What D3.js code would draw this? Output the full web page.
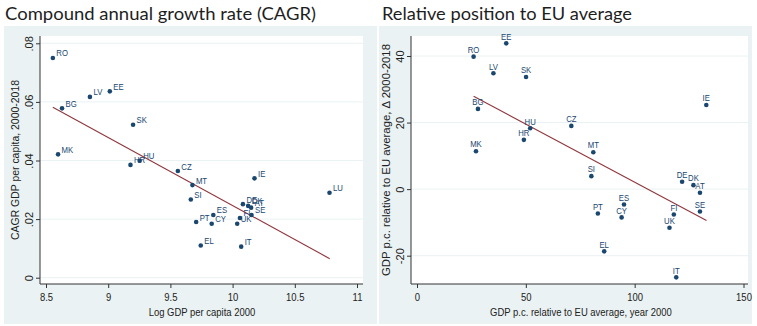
<!DOCTYPE html>
<html>
<head>
<meta charset="utf-8">
<script src="https://cdn.jsdelivr.net/npm/d3@7"></script>
<style>
  html, body { margin: 0; padding: 0; background: #fff; }
  svg { display: block; }
  .tick text, .axis-title, .mlabel { font-family: "Liberation Sans", Arial, sans-serif; }
</style>
</head>
<body>
<div id="chart"></div>
<script>
// Données
const countries = ["RO", "BG", "LV", "EE", "SK", "MK", "HR", "HU", "CZ", "MT", "SI", "ES", "PT", "CY", "EL",
                   "IE", "LU", "DE", "DK", "AT", "SE", "FI", "UK", "IT"];
const logGdp2000 = [8.555, 8.629, 8.853, 9.013, 9.200, 8.597, 9.179, 9.253, 9.560, 9.677, 9.664, 9.845, 9.707, 9.832, 9.744,
                    10.176, 10.779, 10.083, 10.125, 10.149, 10.152, 10.059, 10.037, 10.069];
const cagr = [0.0750, 0.0578, 0.0617, 0.0636, 0.0522, 0.0421, 0.0385, 0.0399, 0.0364, 0.0316, 0.0267, 0.0214, 0.0190, 0.0184, 0.0110,
              0.0339, 0.0290, 0.0251, 0.0245, 0.0239, 0.0214, 0.0204, 0.0184, 0.0106];

// Graphique de droite (sans LU)
const countriesRel = ["EE", "RO", "LV", "SK", "BG", "IE", "HU", "CZ", "HR", "MK", "MT", "SI", "DE", "DK", "AT",
                      "ES", "SE", "PT", "FI", "CY", "UK", "EL", "IT"];
const relGdp2000 = [41.0, 26.0, 35.1, 50.1, 28.0, 132.9, 52.0, 70.9, 49.1, 27.1, 81.0, 80.1, 121.8, 127.0, 130.0,
                    95.1, 130.0, 83.1, 118.0, 94.0, 116.0, 86.0, 119.1];
const relChange = [43.8, 39.8, 34.8, 33.7, 24.1, 25.3, 18.3, 19.0, 14.8, 11.4, 11.1, 3.9, 2.2, 1.2, -1.1,
                   -4.6, -6.7, -7.3, -7.6, -8.5, -11.6, -18.7, -26.5];

// Droites de régression (extrémités)
const fitLeftX = [8.555, 10.781];
const fitLeftY = [0.0582, 0.0065];
const fitRightX = [26.0, 133.0];
const fitRightY = [27.9, -9.4];

// Graduations
const leftXTicks = [8.5, 9, 9.5, 10, 10.5, 11];
const leftYTicks = [0, 0.02, 0.04, 0.06, 0.08];
const rightXTicks = [0, 50, 100, 150];
const rightYTicks = [-20, 0, 20, 40];

// Configuration
const width = 757;
const height = 326;
const squeezeK = 0.86;
const navy = "#1a476f";
const maroon = "#90353b";
const panelBg = "#eaf2f3";

const svg = d3.select("#chart").append("svg")
    .attr("width", width)
    .attr("height", height);

function squeeze(sel, k) {
    sel.each(function() {
        const l = this.getComputedTextLength();
        d3.select(this).attr("textLength", l * k).attr("lengthAdjust", "spacingAndGlyphs");
    });
}

function drawPanel(cfg) {
    const g = svg.append("g");

    // Fond gris
    g.append("rect")
        .attr("x", cfg.panel[0]).attr("y", 26)
        .attr("width", cfg.panel[1] - cfg.panel[0]).attr("height", 298)
        .attr("fill", panelBg);

    // Titre
    g.append("text")
        .attr("x", cfg.titleX).attr("y", 19.5)
        .attr("font-family", "Lato, 'Noto Sans', sans-serif")
        .attr("font-size", 18)
        .attr("fill", "#1e1e1e")
        .attr("textLength", cfg.titleLen)
        .attr("lengthAdjust", "spacingAndGlyphs")
        .text(cfg.title);

    const p = cfg.plot;
    g.append("rect")
        .attr("x", p.x0).attr("y", p.y0)
        .attr("width", p.x1 - p.x0).attr("height", p.y1 - p.y0)
        .attr("fill", "#fff");

    const x = d3.scaleLinear().domain(cfg.xDomain).range(cfg.xRange);
    const y = d3.scaleLinear().domain(cfg.yDomain).range(cfg.yRange);

    // Grille
    g.append("g").selectAll("line")
        .data(cfg.yTicks)
        .join("line")
        .attr("x1", p.x0).attr("x2", p.x1)
        .attr("y1", d => y(d)).attr("y2", d => y(d))
        .attr("stroke", panelBg).attr("stroke-width", 1);

    // Axe X
    const xAxis = g.append("g")
        .attr("transform", `translate(0,${p.y1})`)
        .call(d3.axisBottom(x).tickValues(cfg.xTicks).tickSize(4).tickSizeOuter(0).tickFormat(cfg.xFormat));
    xAxis.select(".domain").remove();
    xAxis.selectAll(".tick line").attr("stroke", "#333");
    xAxis.selectAll(".tick text")
        .attr("y", 9).attr("dy", "0.71em")
        .attr("font-size", 11).attr("fill", "#222")
        .call(squeeze, squeezeK);

    // Axe Y
    const yAxis = g.append("g")
        .attr("transform", `translate(${p.x0},0)`)
        .call(d3.axisLeft(y).tickValues(cfg.yTicks).tickSize(4).tickSizeOuter(0).tickFormat(cfg.yFormat));
    yAxis.select(".domain").remove();
    yAxis.selectAll(".tick line").attr("stroke", "#333");
    yAxis.selectAll(".tick text")
        .attr("x", 0).attr("dy", 0)
        .attr("text-anchor", "middle")
        .attr("transform", "translate(-7,0) rotate(-90)")
        .attr("font-size", 11).attr("fill", "#222");

    // Lignes d'axe
    g.append("line")
        .attr("x1", p.x0).attr("x2", p.x1).attr("y1", p.y1).attr("y2", p.y1)
        .attr("stroke", "#333");
    g.append("line")
        .attr("x1", p.x0).attr("x2", p.x0).attr("y1", p.y0).attr("y2", p.y1)
        .attr("stroke", "#333");

    // Titres d'axes
    g.append("text")
        .attr("class", "axis-title")
        .attr("x", cfg.xTitleX).attr("y", 316)
        .attr("text-anchor", "middle")
        .attr("font-size", 11).attr("fill", "#222")
        .text(cfg.xTitle)
        .call(squeeze, squeezeK);

    g.append("text")
        .attr("class", "axis-title")
        .attr("transform", `translate(${cfg.yTitleX},${(p.y0 + p.y1) / 2}) rotate(-90)`)
        .attr("text-anchor", "middle")
        .attr("font-size", 11).attr("fill", "#222")
        .attr("textLength", cfg.yTitleLen)
        .attr("lengthAdjust", "spacingAndGlyphs")
        .text(cfg.yTitle);

    // Droite ajustée
    g.append("line")
        .attr("x1", x(cfg.fitX[0])).attr("y1", y(cfg.fitY[0]))
        .attr("x2", x(cfg.fitX[1])).attr("y2", y(cfg.fitY[1]))
        .attr("stroke", maroon).attr("stroke-width", 1.1);

    const pts = cfg.labels.map((lab, i) => ({ lab: lab, x: cfg.xs[i], y: cfg.ys[i] }));

    // Points
    g.append("g").selectAll("circle")
        .data(pts)
        .join("circle")
        .attr("cx", d => x(d.x)).attr("cy", d => y(d.y))
        .attr("r", 2.3)
        .attr("fill", navy);

    // Étiquettes
    g.append("g").selectAll("text")
        .data(pts)
        .join("text")
        .attr("class", "mlabel")
        .attr("x", d => x(d.x) + cfg.labDx)
        .attr("y", d => y(d.y) + cfg.labDy)
        .attr("text-anchor", cfg.labAnchor)
        .attr("font-size", 9)
        .attr("fill", navy)
        .text(d => d.lab)
        .call(squeeze, squeezeK);
}

const fmtLeftY = d => d === 0 ? "0" : d3.format(".2f")(d).replace(/^0/, "");

drawPanel({
    panel: [4, 377],
    title: "Compound annual growth rate (CAGR)",
    titleX: 5, titleLen: 311,
    plot: { x0: 40, x1: 363, y0: 36, y1: 284 },
    xDomain: [8.5, 11], xRange: [46, 357],
    yDomain: [0, 0.08], yRange: [277.7, 43.3],
    xTicks: leftXTicks, yTicks: leftYTicks,
    xFormat: d => String(d), yFormat: fmtLeftY,
    xTitle: "Log GDP per capita 2000", xTitleX: 202,
    yTitle: "CAGR GDP per capita, 2000-2018", yTitleX: 19, yTitleLen: 160,
    fitX: fitLeftX, fitY: fitLeftY,
    labels: countries, xs: logGdp2000, ys: cagr,
    labDx: 3.5, labDy: -1.5, labAnchor: "start"
});

drawPanel({
    panel: [379, 752],
    title: "Relative position to EU average",
    titleX: 382, titleLen: 250,
    plot: { x0: 411, x1: 748, y0: 36, y1: 284 },
    xDomain: [0, 150], xRange: [417, 743.5],
    yDomain: [-20, 40], yRange: [255.7, 56],
    xTicks: rightXTicks, yTicks: rightYTicks,
    xFormat: d => String(d), yFormat: d => String(d),
    xTitle: "GDP p.c. relative to EU average, year 2000", xTitleX: 581,
    yTitle: "GDP p.c. relative to EU average, \u0394 2000-2018", yTitleX: 390, yTitleLen: 232,
    fitX: fitRightX, fitY: fitRightY,
    labels: countriesRel, xs: relGdp2000, ys: relChange,
    labDx: 0, labDy: -3.7, labAnchor: "middle"
});
</script>
</body>
</html>
